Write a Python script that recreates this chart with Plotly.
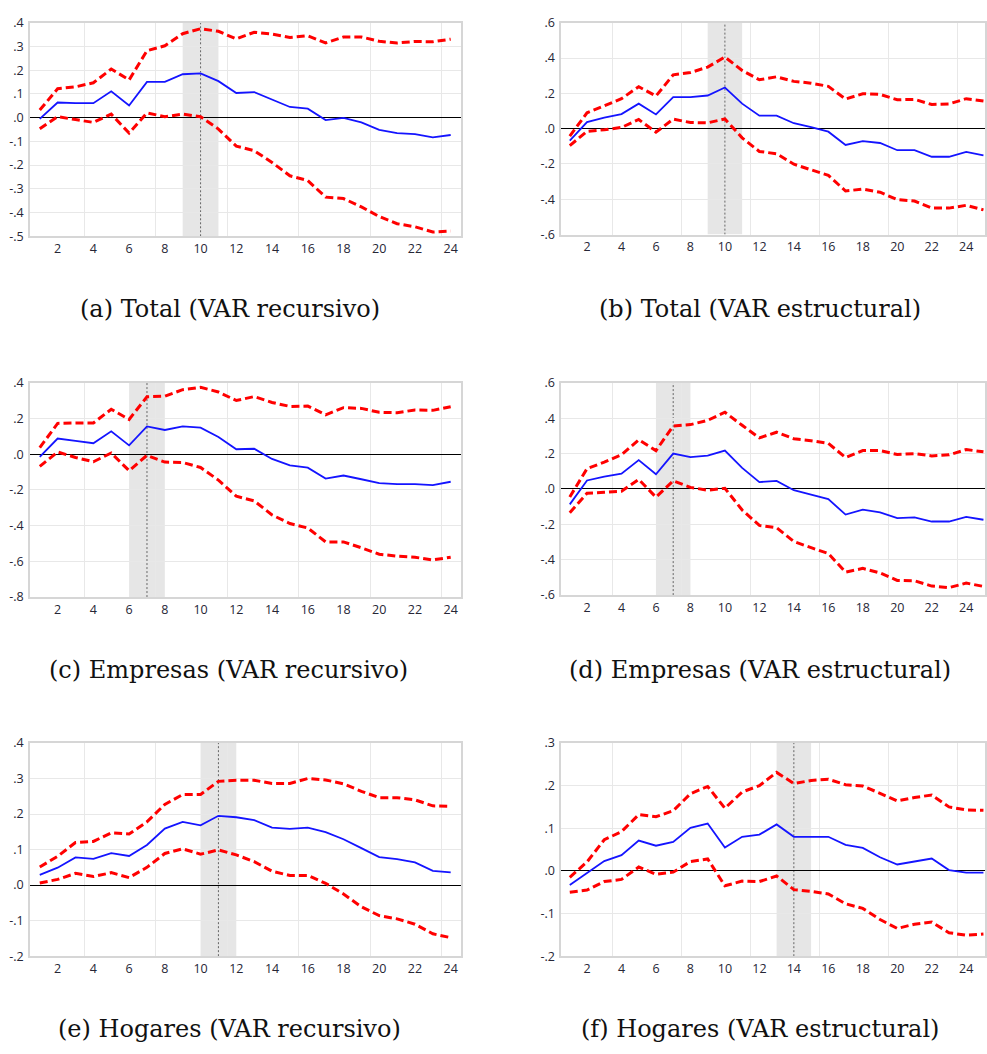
import plotly.graph_objects as go

# ---------------- data ----------------
periods_rec = list(range(1, 25))
periods_est = list(range(1, 26))

a_mid = [-0.005, 0.064, 0.061, 0.061, 0.111, 0.051, 0.151, 0.151, 0.183, 0.187, 0.154, 0.104,
         0.108, 0.076, 0.045, 0.038, -0.010, -0.001, -0.020, -0.051, -0.065, -0.069, -0.083, -0.073]
a_up = [0.032, 0.122, 0.130, 0.147, 0.205, 0.159, 0.282, 0.303, 0.354, 0.375, 0.364, 0.332,
        0.360, 0.352, 0.338, 0.345, 0.315, 0.340, 0.340, 0.322, 0.315, 0.321, 0.320, 0.331]
a_lo = [-0.047, 0.004, -0.008, -0.020, 0.015, -0.065, 0.020, 0.004, 0.015, 0.004, -0.048, -0.120,
        -0.139, -0.189, -0.245, -0.265, -0.335, -0.341, -0.376, -0.417, -0.447, -0.460, -0.482, -0.478]

b_mid = [-0.068, 0.037, 0.063, 0.083, 0.142, 0.081, 0.179, 0.179, 0.188, 0.233, 0.142, 0.074, 0.074,
         0.031, 0.009, -0.017, -0.092, -0.070, -0.081, -0.122, -0.122, -0.159, -0.159, -0.131, -0.151]
b_up = [-0.042, 0.090, 0.129, 0.170, 0.238, 0.185, 0.305, 0.318, 0.349, 0.406, 0.330, 0.277, 0.294,
        0.268, 0.258, 0.240, 0.168, 0.198, 0.194, 0.164, 0.166, 0.137, 0.140, 0.170, 0.157]
b_lo = [-0.096, -0.015, -0.006, 0.007, 0.052, -0.020, 0.054, 0.035, 0.033, 0.055, -0.052, -0.129, -0.142,
        -0.201, -0.233, -0.264, -0.353, -0.342, -0.360, -0.402, -0.410, -0.450, -0.450, -0.434, -0.460]

c_mid = [-0.015, 0.088, 0.075, 0.062, 0.129, 0.050, 0.156, 0.136, 0.156, 0.149, 0.097, 0.028,
         0.031, -0.026, -0.062, -0.075, -0.136, -0.119, -0.140, -0.162, -0.167, -0.167, -0.173, -0.154]
c_up = [0.037, 0.173, 0.175, 0.175, 0.252, 0.195, 0.322, 0.325, 0.362, 0.375, 0.349, 0.301,
        0.323, 0.290, 0.268, 0.270, 0.221, 0.261, 0.257, 0.235, 0.233, 0.248, 0.246, 0.266]
c_lo = [-0.068, 0.013, -0.018, -0.042, 0.007, -0.092, -0.006, -0.044, -0.046, -0.074, -0.145, -0.235,
        -0.261, -0.340, -0.388, -0.413, -0.491, -0.491, -0.524, -0.560, -0.571, -0.577, -0.592, -0.577]

d_mid = [-0.087, 0.048, 0.070, 0.087, 0.163, 0.083, 0.200, 0.180, 0.189, 0.217, 0.119, 0.039, 0.046,
         -0.007, -0.032, -0.057, -0.145, -0.117, -0.132, -0.165, -0.161, -0.184, -0.184, -0.158, -0.174]
d_up = [-0.045, 0.115, 0.152, 0.193, 0.278, 0.217, 0.356, 0.364, 0.388, 0.434, 0.360, 0.289, 0.321,
        0.284, 0.273, 0.258, 0.178, 0.217, 0.217, 0.195, 0.200, 0.187, 0.193, 0.223, 0.210]
d_lo = [-0.134, -0.024, -0.019, -0.013, 0.054, -0.046, 0.046, 0.009, -0.007, 0.004, -0.119, -0.206, -0.219,
        -0.297, -0.332, -0.365, -0.470, -0.449, -0.475, -0.517, -0.519, -0.549, -0.558, -0.532, -0.551]

e_mid = [0.029, 0.049, 0.078, 0.074, 0.090, 0.082, 0.113, 0.159, 0.178, 0.168, 0.195, 0.191,
         0.183, 0.162, 0.158, 0.162, 0.149, 0.129, 0.104, 0.079, 0.073, 0.064, 0.040, 0.036]
e_up = [0.051, 0.081, 0.120, 0.123, 0.147, 0.144, 0.178, 0.227, 0.255, 0.255, 0.292, 0.295,
        0.295, 0.286, 0.286, 0.300, 0.296, 0.285, 0.264, 0.246, 0.246, 0.240, 0.223, 0.222]
e_lo = [0.006, 0.016, 0.033, 0.024, 0.035, 0.021, 0.050, 0.089, 0.102, 0.087, 0.099, 0.085,
        0.066, 0.039, 0.027, 0.027, 0.005, -0.025, -0.061, -0.086, -0.095, -0.110, -0.137, -0.148]

f_mid = [-0.033, -0.006, 0.023, 0.037, 0.071, 0.059, 0.068, 0.101, 0.111, 0.055, 0.080, 0.085, 0.109,
         0.080, 0.080, 0.080, 0.061, 0.054, 0.032, 0.015, 0.022, 0.029, 0.002, -0.004, -0.004]
f_up = [-0.015, 0.021, 0.073, 0.092, 0.132, 0.127, 0.141, 0.181, 0.198, 0.147, 0.185, 0.200, 0.231,
        0.205, 0.212, 0.215, 0.202, 0.199, 0.182, 0.164, 0.172, 0.178, 0.150, 0.143, 0.142]
f_lo = [-0.050, -0.045, -0.025, -0.020, 0.009, -0.008, -0.003, 0.022, 0.028, -0.035, -0.024, -0.025, -0.012,
        -0.044, -0.048, -0.054, -0.077, -0.088, -0.114, -0.135, -0.125, -0.120, -0.145, -0.151, -0.148]

captions = ["(a) Total (VAR recursivo)", "(b) Total (VAR estructural)",
            "(c) Empresas (VAR recursivo)", "(d) Empresas (VAR estructural)",
            "(e) Hogares (VAR recursivo)", "(f) Hogares (VAR estructural)"]
peak_period = [10, 10, 7, 7, 11, 14]
y_ticks = [[0.4, 0.3, 0.2, 0.1, 0.0, -0.1, -0.2, -0.3, -0.4, -0.5],
           [0.6, 0.4, 0.2, 0.0, -0.2, -0.4, -0.6],
           [0.4, 0.2, 0.0, -0.2, -0.4, -0.6, -0.8],
           [0.6, 0.4, 0.2, 0.0, -0.2, -0.4, -0.6],
           [0.4, 0.3, 0.2, 0.1, 0.0, -0.1, -0.2],
           [0.3, 0.2, 0.1, 0.0, -0.1, -0.2]]
x_ticks = list(range(2, 25, 2))

# ---------------- layout helpers ----------------
W, H = 987, 1054
panels = [
    (periods_rec, a_mid, a_up, a_lo),
    (periods_est, b_mid, b_up, b_lo),
    (periods_rec, c_mid, c_up, c_lo),
    (periods_est, d_mid, d_up, d_lo),
    (periods_rec, e_mid, e_up, e_lo),
    (periods_est, f_mid, f_up, f_lo),
]
# pixel boxes: left, right, top, bottom
boxes = [(30, 462, 14, 231), (562.3, 987, 14, 229.3),
         (30, 462, 380, 597.7), (562.3, 987, 380, 595.7),
         (30, 462, 746, 962.7), (562.3, 987, 746, 962.7)]
xranges = [[0.45, 24.58], [0.5, 25.09]] * 3
cap_pos = [(230, 305), (762, 305), (229, 672), (762, 672), (230, 1037), (762, 1037)]


def fmt(v):
    if abs(v) < 1e-9:
        return ".0"
    s = f"{v:.1f}"
    return s.replace("0.", ".")


fig = go.Figure()
shapes = []
annotations = []

for i, (px, mid, up, lo) in enumerate(panels):
    n = i + 1
    xa = "x" if n == 1 else f"x{n}"
    ya = "y" if n == 1 else f"y{n}"
    l, r, t, b = boxes[i]
    ticks = y_ticks[i]
    common_font = dict(family="Open Sans, DejaVu Sans, sans-serif", size=12.5, color="#262636")
    fig.layout[f"xaxis{'' if n == 1 else n}"] = dict(
        domain=[l / W, min(r / W, 1.0)], anchor=ya, range=xranges[i],
        tickvals=x_ticks, ticktext=[str(v) for v in x_ticks], ticks="",
        showgrid=False, zeroline=False,
        minor=dict(tick0=3.5, dtick=4, showgrid=True, gridcolor="#e8e8e8", gridwidth=1, ticks=""),
        showline=True, mirror=True, linecolor="#d6d6d6", linewidth=1.5,
        tickfont=common_font, fixedrange=True,
    )
    fig.layout[f"yaxis{'' if n == 1 else n}"] = dict(
        domain=[1 - b / H, 1 - t / H], anchor=xa, range=[min(ticks), max(ticks)],
        tickvals=ticks, ticktext=[fmt(v) for v in ticks], ticks="",
        showgrid=True, gridcolor="#e8e8e8", gridwidth=1,
        zeroline=True, zerolinecolor="#000000", zerolinewidth=1,
        showline=True, mirror=True, linecolor="#d6d6d6", linewidth=1.5,
        tickfont=common_font, ticklabelstandoff=2, fixedrange=True,
    )
    pk = peak_period[i]
    shapes.append(dict(type="rect", xref=xa, yref=ya, x0=pk - 1, x1=pk + 1,
                       y0=min(ticks), y1=max(ticks),
                       fillcolor="#e6e6e6", line=dict(width=0), layer="below"))
    shapes.append(dict(type="line", xref=xa, yref=ya, x0=pk, x1=pk,
                       y0=min(ticks), y1=max(ticks),
                       line=dict(color="#666666", width=1, dash="2px,2px"), layer="below"))
    fig.add_trace(go.Scatter(x=px, y=up, mode="lines", xaxis=xa, yaxis=ya,
                             line=dict(color="#ff0000", width=3, dash="8px,4px"), showlegend=False))
    fig.add_trace(go.Scatter(x=px, y=lo, mode="lines", xaxis=xa, yaxis=ya,
                             line=dict(color="#ff0000", width=3, dash="8px,4px"), showlegend=False))
    fig.add_trace(go.Scatter(x=px, y=mid, mode="lines", xaxis=xa, yaxis=ya,
                             line=dict(color="#1414ff", width=1.8), showlegend=False))
    cx, cy = cap_pos[i]
    annotations.append(dict(text=captions[i], xref="paper", yref="paper", x=cx / W, y=1 - cy / H,
                            xanchor="center", yanchor="middle", showarrow=False,
                            font=dict(family="DejaVu Serif, serif", size=24, color="#111111")))

fig.update_layout(width=W, height=H, margin=dict(l=0, r=0, t=0, b=0),
                  paper_bgcolor="white", plot_bgcolor="rgba(0,0,0,0)",
                  shapes=shapes, annotations=annotations, showlegend=False)

fig.write_html("out.html", config={"displayModeBar": False},
               post_script="document.body.style.margin='0px';")
